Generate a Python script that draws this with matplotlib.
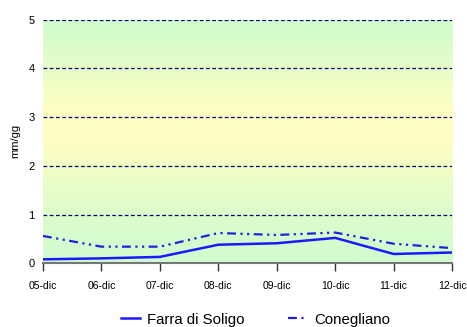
import matplotlib.pyplot as plt
import numpy as np
from matplotlib.colors import LinearSegmentedColormap

plt.rcParams['font.family'] = ['Liberation Sans Narrow', 'Liberation Sans', 'DejaVu Sans']

giorni = ['05-dic', '06-dic', '07-dic', '08-dic', '09-dic', '10-dic', '11-dic', '12-dic']
farra = [0.08, 0.10, 0.13, 0.38, 0.41, 0.52, 0.19, 0.22]
conegliano = [0.56, 0.34, 0.34, 0.62, 0.58, 0.63, 0.40, 0.31]

fig = plt.figure(figsize=(4.67, 3.27), dpi=100)
ax = fig.add_axes([0.092, 0.195, 0.876, 0.745])

x = np.arange(len(giorni))

# sfondo a gradiente verde-giallo-verde
cmap = LinearSegmentedColormap.from_list(
    'fondo', [(0.0, '#d2fcd2'), (0.2, '#dcfcca'), (0.5, '#fefec2'),
              (0.65, '#fdfec2'), (0.85, '#e0fcca'), (1.0, '#d0fdcc')])
grad = np.linspace(0, 1, 256).reshape(-1, 1)
ax.imshow(grad, cmap=cmap, aspect='auto', origin='lower',
          extent=(0, len(giorni) - 1, 0, 5), zorder=0)

for v in range(1, 6):
    ax.axhline(v, color='#000080', lw=0.9, ls=(0, (3, 2)), zorder=1)

ax.plot(x, farra, color='#1a1aff', lw=1.8, label='Farra di Soligo', zorder=3)
ax.plot(x, conegliano, color='#2020e0', lw=1.6,
        ls=(0, (4, 2, 1, 2, 1, 2)), label='Conegliano', zorder=3)

ax.set_xlim(0, len(giorni) - 1)
ax.set_ylim(0, 5)
ax.set_xticks(x)
ax.set_xticklabels(giorni, fontsize=7.5)
ax.set_yticks(range(0, 6))
ax.tick_params(axis='y', length=0, labelsize=8, pad=6)
ax.tick_params(axis='x', length=6, width=1, color='#333333', direction='out', pad=7)
ax.set_ylabel('mm/gg', fontsize=8, labelpad=6)

for s in ['top', 'right', 'left']:
    ax.spines[s].set_visible(False)
ax.spines['bottom'].set_color('#777777')
ax.spines['bottom'].set_linewidth(1.5)

fig.legend(loc='lower center', ncol=2, frameon=False, fontsize=10.8,
           bbox_to_anchor=(0.548, -0.04), handlelength=1.25, columnspacing=2.9,
           handletextpad=0.5)

fig.savefig('out.png', dpi=100)
